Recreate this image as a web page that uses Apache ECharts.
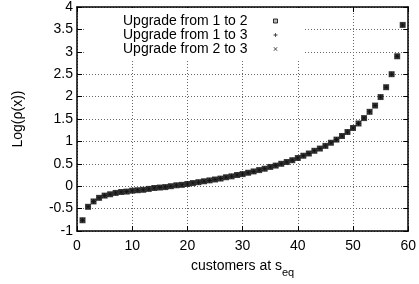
<!DOCTYPE html>
<html>
<head>
<meta charset="utf-8">
<script src="https://cdn.jsdelivr.net/npm/echarts@6/dist/echarts.min.js"></script>
<style>
  html, body { margin: 0; padding: 0; background: #fff; }
  #chart { width: 419px; height: 284px; }
</style>
</head>
<body>
<div id="chart"></div>
<script>
const customers = [1, 2, 3, 4, 5, 6, 7, 8, 9, 10, 11, 12, 13, 14, 15, 16, 17, 18, 19, 20,
  21, 22, 23, 24, 25, 26, 27, 28, 29, 30, 31, 32, 33, 34, 35, 36, 37, 38, 39, 40,
  41, 42, 43, 44, 45, 46, 47, 48, 49, 50, 51, 52, 53, 54, 55, 56, 57, 58, 59];
const logRho = [-0.76, -0.46, -0.34, -0.26, -0.21, -0.18, -0.15, -0.13, -0.12, -0.10,
  -0.09, -0.08, -0.06, -0.04, -0.03, -0.02, 0.00, 0.02, 0.03, 0.05,
  0.07, 0.09, 0.11, 0.13, 0.15, 0.17, 0.20, 0.22, 0.25, 0.27,
  0.30, 0.33, 0.36, 0.39, 0.43, 0.46, 0.50, 0.54, 0.58, 0.63,
  0.68, 0.73, 0.79, 0.84, 0.90, 0.97, 1.04, 1.12, 1.21, 1.30,
  1.40, 1.52, 1.66, 1.80, 1.99, 2.21, 2.50, 2.90, 3.60];
const seriesNames = ['Upgrade from 1 to 2', 'Upgrade from 1 to 3', 'Upgrade from 2 to 3'];

const font = 'Liberation Sans, Arial, Helvetica, sans-serif';
const plusPath = 'path://M4,0H6V4H10V6H6V10H4V6H0V4H4Z';
const crossPath = 'path://M0,1L1,0L5,4L9,0L10,1L6,5L10,9L9,10L5,6L1,10L0,9L4,5Z';

const pts = customers.map((c, i) => [c, logRho[i]]);

var chart = echarts.init(document.getElementById('chart'));
var axisCommon = {
  axisLine: { show: true, onZero: false, lineStyle: { color: '#000', width: 1.5 } },
  axisTick: { show: true, inside: true, length: 5, lineStyle: { color: '#000' } }
};
var option = {
  animation: false,
  textStyle: { fontFamily: font },
  grid: { left: 77, right: 7, top: 7, bottom: 53 },
  legend: {
    orient: 'vertical',
    align: 'right',
    left: 84,
    top: 8,
    padding: [6, 27, 3, 39],
    itemGap: 0,
    itemWidth: 4,
    itemHeight: 4,
    backgroundColor: '#fff',
    textStyle: { fontFamily: font, fontSize: 14, color: '#000', lineHeight: 13, padding: [0, 21, 0, 0] },
    data: [
      { name: seriesNames[0], icon: 'rect', itemStyle: { color: '#aaa', borderColor: '#000', borderWidth: 1 } },
      { name: seriesNames[1], icon: plusPath, itemStyle: { color: '#000', borderWidth: 0 } },
      { name: seriesNames[2], icon: crossPath, itemStyle: { color: '#000', borderWidth: 0 } }
    ]
  },
  xAxis: [
    Object.assign({
      type: 'value', min: 0, max: 60, interval: 10,
      name: '{a|customers at s}{sub|eq}',
      nameLocation: 'middle',
      nameGap: 24,
      nameTextStyle: {
        rich: {
          a: { fontFamily: font, fontSize: 14, color: '#000' },
          sub: { fontFamily: font, fontSize: 11, color: '#000', padding: [12, 0, 0, 0] }
        }
      },
      axisLabel: { fontFamily: font, fontSize: 14, color: '#000', margin: 8 },
      splitLine: { show: true, lineStyle: { color: '#666', type: [1, 2], width: 1 } }
    }, axisCommon),
    Object.assign({
      type: 'value', min: 0, max: 60, interval: 10, position: 'top',
      axisLabel: { show: false }, splitLine: { show: false }
    }, axisCommon)
  ],
  yAxis: [
    Object.assign({
      type: 'value', min: -1, max: 4, interval: 0.5,
      name: 'Log(ρ(x))',
      nameLocation: 'middle',
      nameGap: 52,
      nameTextStyle: { fontFamily: font, fontSize: 14, color: '#000' },
      axisLabel: { fontFamily: font, fontSize: 14, color: '#000', margin: 4 },
      splitLine: { show: true, lineStyle: { color: '#666', type: [1, 2], width: 1 } }
    }, axisCommon),
    Object.assign({
      type: 'value', min: -1, max: 4, interval: 0.5, position: 'right',
      axisLabel: { show: false }, splitLine: { show: false }
    }, axisCommon)
  ],
  series: [
    {
      name: seriesNames[1], type: 'scatter', data: pts,
      symbol: plusPath, symbolSize: 5, itemStyle: { color: '#000' }
    },
    {
      name: seriesNames[2], type: 'scatter', data: pts,
      symbol: crossPath, symbolSize: 5, itemStyle: { color: '#000' }
    },
    {
      name: seriesNames[0], type: 'scatter', data: pts,
      symbol: 'rect', symbolSize: 6, itemStyle: { color: '#111' }
    }
  ]
};
option && chart.setOption(option);
</script>
</body>
</html>
